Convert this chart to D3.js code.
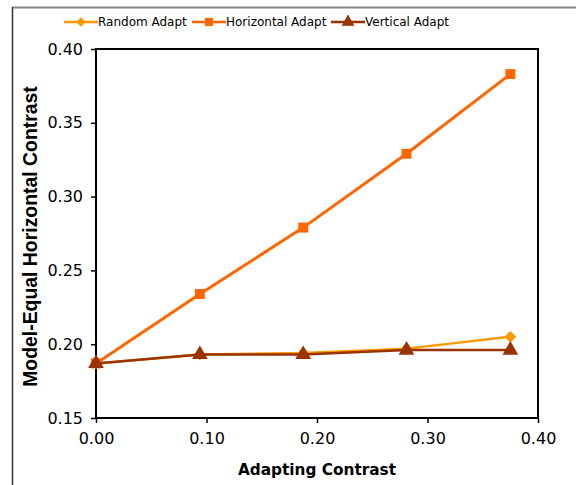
<!DOCTYPE html>
<html>
<head>
<meta charset="utf-8">
<script src="https://cdn.jsdelivr.net/npm/d3@7"></script>
<style>
  body { margin: 0; background: #fff; }
  svg { display: block; }
</style>
</head>
<body>
<script>
// Data.
var adapting = [0, 0.094, 0.1875, 0.281, 0.375];
var randomAdapt = [0.187, 0.193, 0.194, 0.197, 0.205];
var horizontalAdapt = [0.187, 0.234, 0.279, 0.329, 0.383];
var verticalAdapt = [0.187, 0.193, 0.193, 0.196, 0.196];
var xTicks = [0, 0.1, 0.2, 0.3, 0.4];
var yTicks = [0.15, 0.20, 0.25, 0.30, 0.35, 0.40];

var seriesList = [
  {name: 'Random Adapt', values: randomAdapt, color: '#ff9900', marker: 'diamond'},
  {name: 'Horizontal Adapt', values: horizontalAdapt, color: '#ff6600', marker: 'square'},
  {name: 'Vertical Adapt', values: verticalAdapt, color: '#993300', marker: 'triangle'}
];

var width = 576, height = 485;
var plot = {left: 96, right: 538, top: 49, bottom: 418};

var svg = d3.select('body').append('svg')
    .attr('width', width)
    .attr('height', height);

// Outer chart frame (only top and left visible).
svg.append('line')
    .attr('x1', 12).attr('x2', width).attr('y1', 7.5).attr('y2', 7.5)
    .style('stroke', '#888').style('stroke-width', 2);
svg.append('line')
    .attr('x1', 12.5).attr('x2', 12.5).attr('y1', 7).attr('y2', height)
    .style('stroke', '#333').style('stroke-width', 1.5);

var x = d3.scaleLinear().domain([0, 0.4]).range([plot.left, plot.right]);
var y = d3.scaleLinear().domain([0.15, 0.4]).range([plot.bottom, plot.top]);

// Axes
var xAxis = svg.append('g')
    .attr('transform', 'translate(0,' + plot.bottom + ')')
    .call(d3.axisBottom(x).tickValues(xTicks).tickFormat(d3.format('.2f')).tickSize(5).tickPadding(10));
var yAxis = svg.append('g')
    .attr('transform', 'translate(' + plot.left + ',0)')
    .call(d3.axisLeft(y).tickValues(yTicks).tickFormat(d3.format('.2f')).tickSize(5).tickPadding(8));

[xAxis, yAxis].forEach(function(g) {
  g.select('.domain').remove();
  g.selectAll('line').style('stroke', '#000').style('stroke-width', 1.5);
  g.selectAll('text')
      .style('font-family', '"DejaVu Sans", Verdana, sans-serif')
      .style('font-size', '16px')
      .style('fill', '#000');
});

// Plot frame
svg.append('rect')
    .attr('x', plot.left).attr('y', plot.top)
    .attr('width', plot.right - plot.left)
    .attr('height', plot.bottom - plot.top)
    .style('fill', 'none').style('stroke', '#000').style('stroke-width', 2);

// Axis titles
svg.append('text')
    .attr('x', (plot.left + plot.right) / 2)
    .attr('y', 475)
    .attr('text-anchor', 'middle')
    .style('font-family', '"DejaVu Sans", Verdana, sans-serif')
    .style('font-weight', 'bold')
    .style('font-size', '15.3px')
    .text('Adapting Contrast');

svg.append('text')
    .attr('transform', 'translate(37,' + ((plot.top + plot.bottom) / 2 + 3) + ') rotate(-90)')
    .attr('text-anchor', 'middle')
    .style('font-family', '"Liberation Sans", Arial, sans-serif')
    .style('font-weight', 'bold')
    .style('font-size', '19.4px')
    .text('Model-Equal Horizontal Contrast');

function markerPath(type, size) {
  if (type === 'diamond') return d3.symbol().type(d3.symbolDiamond2).size(size)();
  if (type === 'square') return d3.symbol().type(d3.symbolSquare).size(size * 1.1)();
  return d3.symbol().type(d3.symbolTriangle).size(size * 1.2)();
}

var line = d3.line()
    .x(function(d) { return x(d[0]); })
    .y(function(d) { return y(d[1]); });

seriesList.forEach(function(s) {
  var pts = adapting.map(function(a, i) { return [a, s.values[i]]; });
  var g = svg.append('g');
  g.append('path')
      .datum(pts)
      .attr('d', line)
      .style('fill', 'none')
      .style('stroke', s.color)
      .style('stroke-width', s.marker === 'square' ? 3 : 2.5);
  g.selectAll('path.mk')
      .data(pts)
    .enter().append('path')
      .attr('class', 'mk')
      .attr('transform', function(d) { return 'translate(' + x(d[0]) + ',' + y(d[1]) + ')'; })
      .attr('d', markerPath(s.marker, 90))
      .style('fill', s.color);
});

// Legend
var legendX = [64, 192, 331];
seriesList.forEach(function(s, i) {
  var g = svg.append('g').attr('transform', 'translate(' + legendX[i] + ',22)');
  g.append('line')
      .attr('x1', 0).attr('x2', 34)
      .style('stroke', s.color).style('stroke-width', 2.5);
  g.append('path')
      .attr('transform', 'translate(17,0)')
      .attr('d', markerPath(s.marker, 60))
      .style('fill', s.color);
  g.append('text')
      .attr('x', 34)
      .attr('dy', '0.35em')
      .style('font-family', '"DejaVu Sans", Verdana, sans-serif')
      .style('font-size', '12px')
      .text(s.name);
});
</script>
</body>
</html>
